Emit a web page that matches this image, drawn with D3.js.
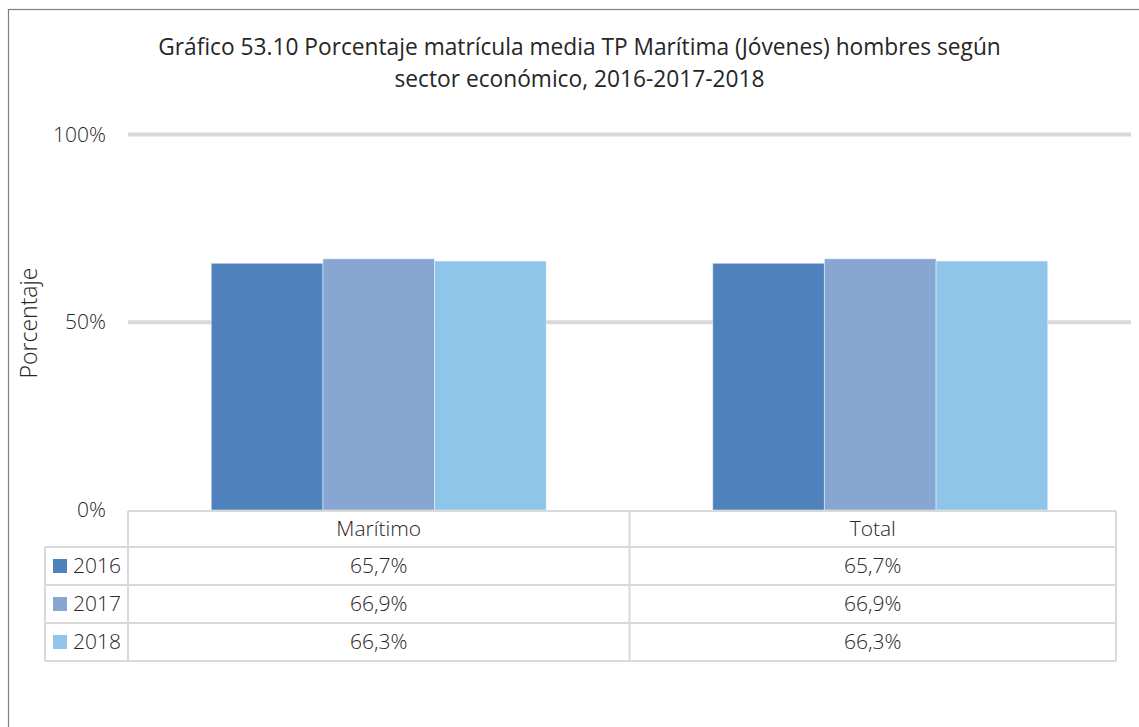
<!DOCTYPE html>
<html><head><meta charset="utf-8">
<script src="https://cdn.jsdelivr.net/npm/d3@7"></script>
<style>
html,body{margin:0;padding:0;background:#fff;}
svg text{font-family:"Open Sans","Noto Sans",sans-serif;fill:#262626;}
</style></head>
<body><svg id="c" width="1139" height="727"></svg>
<script>
const titleLines = ["Gráfico 53.10 Porcentaje matrícula media TP Marítima (Jóvenes) hombres según", "sector económico, 2016-2017-2018"];
const categories = ["Marítimo", "Total"];
const seriesNames = ["2016", "2017", "2018"];
const values2016 = [65.7, 65.7];
const values2017 = [66.9, 66.9];
const values2018 = [66.3, 66.3];
const yTicks = [0, 50, 100];
const yLabel = "Porcentaje";
const colors = ["#4f81bd", "#87a7d2", "#8fc5e9"];
const seriesValues = [values2016, values2017, values2018];

const svg = d3.select("#c");
// outer frame
svg.append("rect").attr("x", 8.5).attr("y", 9.5).attr("width", 1200).attr("height", 800)
  .attr("fill", "none").attr("stroke", "#7f7f7f").attr("stroke-width", 1.2);

// title, scaled so first line spans the reference width
const titleEls = titleLines.map((t, i) => svg.append("text").attr("x", 579.5).attr("y", 55 + i * 32)
  .attr("text-anchor", "middle").style("font-size", "21px").attr("fill", "#111").text(t));
const firstW = titleEls[0].node().getComputedTextLength();
const tfs = 21 * 843 / firstW;
titleEls.forEach(el => el.style("font-size", tfs + "px"));

const x0 = 128, x1 = 1131, yTop = 134.5, yBot = 510;
const x = d3.scaleBand().domain(categories).range([x0, x1]);
const y = d3.scaleLinear().domain([0, 100]).range([yBot, yTop]);
const groupW = x.bandwidth() * 0.668;
const xInner = d3.scaleBand().domain(seriesNames).range([(x.bandwidth() - groupW) / 2, (x.bandwidth() + groupW) / 2]);

// gridlines
const grid = svg.append("g");
yTicks.filter(t => t > 0).forEach(t => {
  grid.append("line").attr("x1", x0).attr("x2", x1).attr("y1", y(t)).attr("y2", y(t))
    .attr("stroke", "#d9d9d9").attr("stroke-width", 4);
});

// y tick labels
const yAxis = d3.axisLeft(y).tickValues(yTicks).tickFormat(d => d + "%").tickSize(0).tickPadding(0);
const ga = svg.append("g").attr("transform", "translate(106,0)").call(yAxis);
ga.select(".domain").remove();
ga.selectAll("text").style("font-family", "'Open Sans',sans-serif").style("font-weight", 300)
  .style("font-size", "21px").attr("fill", "#1a1a1a").attr("dy", "0.32em");

// y label
svg.append("text").attr("transform", "translate(37,323) rotate(-90)").attr("text-anchor", "middle")
  .style("font-size", "23px").style("font-weight", 300).attr("fill", "#1a1a1a").text(yLabel);

// bars
seriesNames.forEach((s, si) => {
  svg.append("g").selectAll("rect").data(categories).join("rect")
    .attr("x", c => x(c) + xInner(s))
    .attr("width", xInner.bandwidth())
    .attr("y", (c, ci) => y(seriesValues[si][ci]))
    .attr("height", (c, ci) => yBot - y(seriesValues[si][ci]))
    .attr("fill", colors[si]).attr("stroke", "rgba(255,255,255,0.45)").attr("stroke-width", 1);
});

// data table
const tRight = 1116, legendLeft = 45;
const rowY = [511, 547, 585, 623, 661];
const colX = [x0, x(categories[1]), tRight];
const tb = svg.append("g").attr("stroke", "#d9d9d9").attr("stroke-width", 2).attr("fill", "none");
tb.append("line").attr("x1", x0).attr("x2", tRight).attr("y1", rowY[0]).attr("y2", rowY[0]);
rowY.slice(1).forEach(yy => tb.append("line").attr("x1", legendLeft).attr("x2", tRight).attr("y1", yy).attr("y2", yy));
colX.forEach(xx => tb.append("line").attr("x1", xx).attr("x2", xx).attr("y1", rowY[0]).attr("y2", rowY[4]));
tb.append("line").attr("x1", legendLeft).attr("x2", legendLeft).attr("y1", rowY[1]).attr("y2", rowY[4]);

const cellFont = "21px";
categories.forEach((c, ci) => {
  const cx = (colX[ci] + colX[ci + 1]) / 2;
  svg.append("text").attr("x", cx).attr("y", (rowY[0] + rowY[1]) / 2).attr("dy", "0.35em")
    .attr("text-anchor", "middle").style("font-size", cellFont).style("font-weight", 300).attr("fill", "#1a1a1a").text(c);
  seriesNames.forEach((s, si) => {
    svg.append("text").attr("x", cx).attr("y", (rowY[si + 1] + rowY[si + 2]) / 2).attr("dy", "0.35em")
      .attr("text-anchor", "middle").style("font-size", cellFont).style("font-weight", 300).attr("fill", "#1a1a1a")
      .text(d3.format(".1f")(seriesValues[si][ci]).replace(".", ",") + "%");
  });
});
seriesNames.forEach((s, si) => {
  const cy = (rowY[si + 1] + rowY[si + 2]) / 2;
  svg.append("rect").attr("x", 53).attr("y", cy - 7).attr("width", 14).attr("height", 14).attr("fill", colors[si]);
  svg.append("text").attr("x", 73).attr("y", cy).attr("dy", "0.35em")
    .style("font-size", cellFont).style("font-weight", 300).attr("fill", "#1a1a1a").text(s);
});
</script></body></html>
